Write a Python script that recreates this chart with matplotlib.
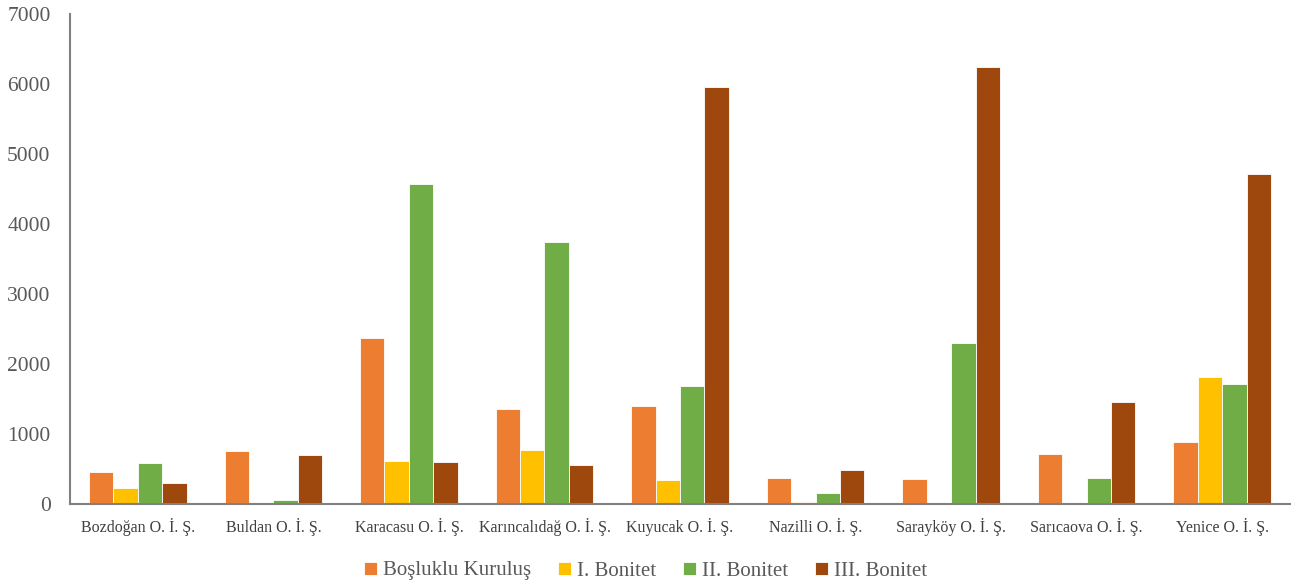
import matplotlib
matplotlib.use("Agg")
import matplotlib.pyplot as plt
import numpy as np

categories = ["Bozdoğan O. İ. Ş.", "Buldan O. İ. Ş.", "Karacasu O. İ. Ş.",
              "Karıncalıdağ O. İ. Ş.", "Kuyucak O. İ. Ş.", "Nazilli O. İ. Ş.",
              "Sarayköy O. İ. Ş.", "Sarıcaova O. İ. Ş.", "Yenice O. İ. Ş."]
series_names = ["Boşluklu Kuruluş", "I. Bonitet", "II. Bonitet", "III. Bonitet"]
boslukku = [460, 760, 2370, 1360, 1395, 370, 355, 715, 885]
bonitet_1 = [230, 0, 615, 770, 345, 30, 0, 0, 1815]
bonitet_2 = [585, 55, 4570, 3745, 1680, 155, 2300, 370, 1715]
bonitet_3 = [305, 700, 600, 555, 5960, 485, 6245, 1460, 4715]
colors = ["#ED7D31", "#FFC000", "#70AD47", "#9E480E"]

plt.rcParams["font.family"] = ["Liberation Serif", "DejaVu Serif"]

fig = plt.figure(figsize=(12.91, 5.86), dpi=100)
ax = fig.add_axes([70 / 1291, 1 - 504 / 586, 1220 / 1291, 490 / 586])

x = np.arange(len(categories))
w = 0.18
for i, (vals, name) in enumerate(zip([boslukku, bonitet_1, bonitet_2, bonitet_3], series_names)):
    ax.bar(x + (i - 1.5) * w, vals, width=w, color=colors[i], label=name,
           edgecolor="white", linewidth=0.6)

ax.set_xlim(-0.5, len(categories) - 0.5)
ax.set_ylim(0, 7000)
ax.set_yticks(range(0, 7001, 1000))
ax.set_xticks(x)
ax.set_xticklabels(categories, fontsize=11.5, color="#404040")
ax.tick_params(axis="y", labelsize=15.5, colors="#595959", length=0, pad=14)
ax.tick_params(axis="x", length=0, pad=10)
for s in ["top", "right"]:
    ax.spines[s].set_visible(False)
for s in ["left", "bottom"]:
    ax.spines[s].set_color("#808080")
    ax.spines[s].set_linewidth(1.5)

# legend centred on the figure, below the axis
handles, labels = ax.get_legend_handles_labels()
leg = fig.legend(handles, labels, loc="center", bbox_to_anchor=(0.5, 1 - 571 / 586),
                 ncol=4, frameon=False, fontsize=15, handlelength=0.6, handleheight=0.6,
                 handletextpad=0.3, columnspacing=1.3)
for t in leg.get_texts():
    t.set_color("#595959")

fig.savefig("out.png", dpi=100)
